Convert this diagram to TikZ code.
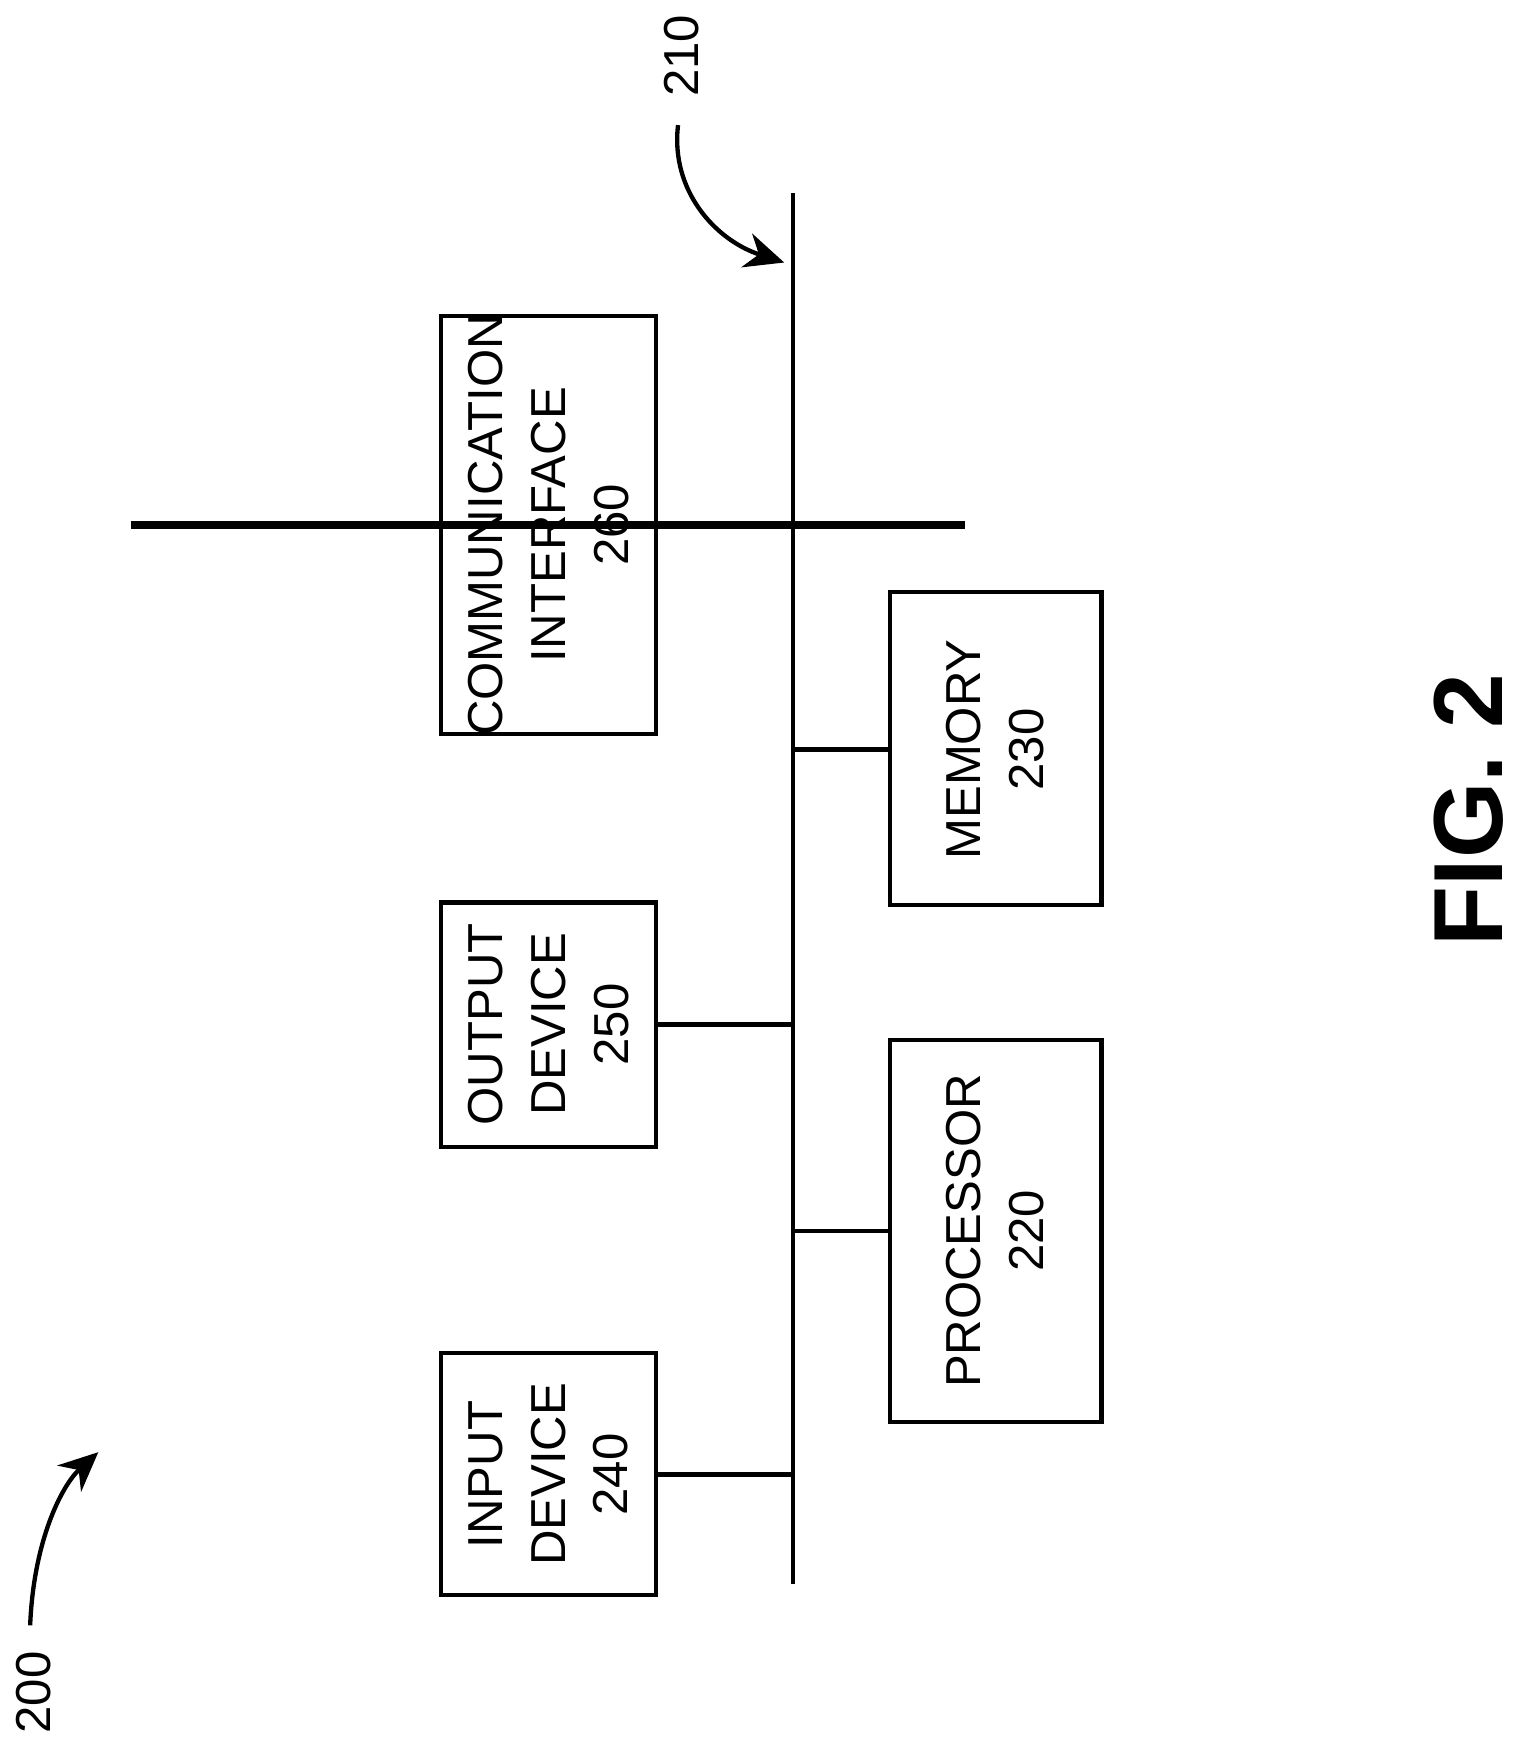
\documentclass[tikz,border=0pt]{standalone}
\usepackage{fontspec}
\setmainfont{Liberation Sans}
\usetikzlibrary{arrows.meta}
\begin{document}
\begin{tikzpicture}[x=0.01cm,y=-0.01cm,
  box/.style={draw,line width=1.1pt,inner sep=0pt},
  lbl/.style={rotate=90,align=center,font=\fontsize{12.5}{14}\selectfont},
  ln/.style={line width=1.1pt},
  arr/.style={line width=1.1pt,-{Stealth[length=10pt,width=9pt]}}]
\useasboundingbox (0,0) rectangle (1366,1572);
\coordinate (bt) at (710,173);
\coordinate (bb) at (710,1418);
\draw[ln] (bt) -- (bb);
\node[box,minimum width=192\pgflinewidth] (c) at (491,470) {};
\draw[line width=1.1pt] (395,283) rectangle (587,657);
\draw[line width=1.1pt] (395,808) rectangle (587,1027);
\draw[line width=1.1pt] (395,1211) rectangle (587,1428);
\draw[line width=1.1pt] (797,530) rectangle (986,810);
\draw[line width=1.1pt] (797,931) rectangle (986,1273);
\coordinate (c1) at (587,470); \coordinate (c2) at (710,470);
\coordinate (o1) at (587,917); \coordinate (o2) at (710,917);
\coordinate (i1) at (587,1320); \coordinate (i2) at (710,1320);
\coordinate (m1) at (797,671); \coordinate (m2) at (710,671);
\coordinate (p1) at (797,1102); \coordinate (p2) at (710,1102);
\draw[ln] (c1)--(c2); \draw[ln] (o1)--(o2); \draw[ln] (i1)--(i2);
\draw[ln] (m1)--(m2); \draw[ln] (p1)--(p2);
\node[lbl] (tc) at (491,470) {COMMUNICATION\\[2pt]INTERFACE\\[2pt]260};
\node[lbl] (to) at (491,917) {OUTPUT\\[2pt]DEVICE\\[2pt]250};
\node[lbl] (ti) at (491,1320) {INPUT\\[2pt]DEVICE\\[2pt]240};
\node[lbl] (tm) at (891,671) {MEMORY\\[2pt]230};
\node[lbl] (tp) at (891,1102) {PROCESSOR\\[2pt]220};
\node[lbl] (l210) at (610,50) {210};
\node[lbl] (l200) at (30,1515) {200};
\node[rotate=90,font=\bfseries\fontsize{25}{28}\selectfont] (fig) at (1315,725) {FIG. 2};
\coordinate (a1s) at (607,112); \coordinate (a1e) at (702,235);
\draw[arr] (a1s) .. controls (600,170) and (640,215) .. (a1e);
\coordinate (a2s) at (27,1455); \coordinate (a2e) at (88,1300);
\draw[arr] (a2s) .. controls (30,1380) and (55,1330) .. (a2e);
\end{tikzpicture}
\end{document}
